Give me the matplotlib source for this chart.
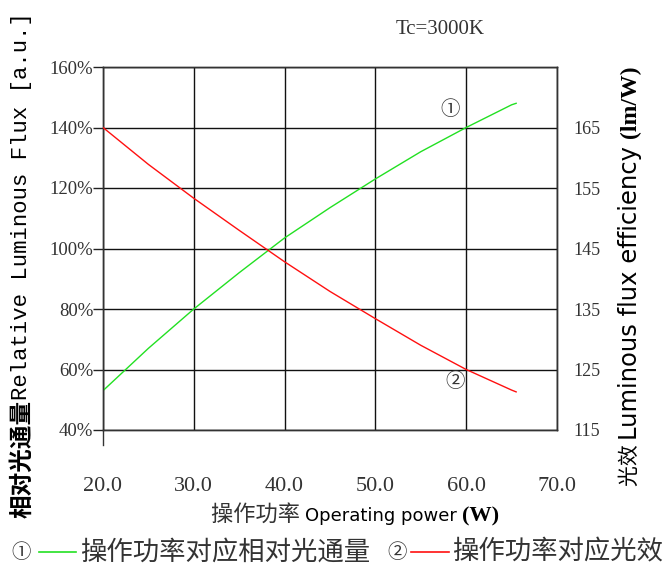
import matplotlib
matplotlib.use("Agg")
import matplotlib.pyplot as plt

# operating power (W) and the two measured curves
power = [20, 25, 30, 35, 40, 45, 50, 55, 60, 65, 65.5]
rel_flux = [53, 67, 80, 92, 103.5, 113.5, 123, 132, 140, 147.5, 148]      # %
efficacy = [165, 158.9, 153.3, 148.0, 142.8, 137.9, 133.4, 129.0, 125.0, 121.6, 121.3]  # lm/W

x_ticks = [20, 30, 40, 50, 60, 70]
left_ticks = [40, 60, 80, 100, 120, 140, 160]
right_ticks = [115, 125, 135, 145, 155, 165]

_TXT = "#333333"
_GREEN = "#22e022"
_RED = "#ff1010"
_SERIF = "Liberation Serif"
_CJK = "Noto Sans CJK SC"

W, H = 664, 572
fig = plt.figure(figsize=(W / 100, H / 100), dpi=100)
ax = fig.add_axes([103 / W, 1 - 430 / H, (557 - 103) / W, (430 - 67) / H])
ax2 = ax.twinx()

ax.plot(power, rel_flux, color=_GREEN, lw=1.0, zorder=3)
ax2.plot(power, efficacy, color=_RED, lw=1.0, zorder=3)

ax.set_xlim(20, 70)
ax.set_ylim(40, 160)
ax2.set_ylim(115, 175)

ax.set_xticks(x_ticks)
ax.set_xticklabels([f"{v:.1f}" for v in x_ticks], fontfamily=_SERIF, fontsize=16, color=_TXT)
ax.set_yticks(left_ticks)
ax.set_yticklabels([f"{v}%" for v in left_ticks], fontfamily=_SERIF, fontsize=13.5, color=_TXT)
ax2.set_yticks(right_ticks)
ax2.set_yticklabels([str(v) for v in right_ticks], fontfamily=_SERIF, fontsize=13, color=_TXT)

ax.tick_params(axis="x", length=0, pad=34)
ax.tick_params(axis="y", length=7, width=1.0, pad=0, color="#222222")
ax2.tick_params(axis="y", length=0, pad=12)

ax.grid(True, color="#111111", lw=1.0)
ax.set_axisbelow(True)
for a in (ax, ax2):
    for sp in a.spines.values():
        sp.set_color("#333333")
        sp.set_linewidth(1.0)

# left spine runs a little below the frame
ax.plot([0, 0], [0, -0.04], transform=ax.transAxes, color="#333333", lw=1.0, clip_on=False)

# curve markers
ax.text(58.2, 145.8, "①", fontfamily=_CJK, fontsize=14, color=_TXT, ha="center", va="center")
ax.text(58.8, 55.9, "②", fontfamily=_CJK, fontsize=14, color=_TXT, ha="center", va="center")

fig.text(440 / W, 1 - 30 / H, "Tc=3000K", fontfamily=_SERIF, fontsize=15, color=_TXT,
         ha="center", va="center")

renderer = fig.canvas.get_renderer()


def text_run(pieces, cx, cy, rotation=0, gap=0):
    """Lay out text pieces one after another, centred on (cx, cy) in pixels."""
    objs = []
    for s, kw in pieces:
        t = fig.text(0, 0, s, rotation=rotation, **kw)
        objs.append(t)
    sizes = []
    for t in objs:
        bb = t.get_window_extent(renderer)
        sizes.append(bb.width if rotation == 0 else bb.height)
    total = sum(sizes) + gap * (len(objs) - 1)
    if rotation == 0:
        pos = cx - total / 2
        for t, s in zip(objs, sizes):
            t.set_ha("left")
            t.set_va("baseline")
            t.set_position((pos / W, 1 - cy / H))
            pos += s + gap
    else:
        pos = (H - cy) - total / 2
        for t, s in zip(objs, sizes):
            t.set_ha("center")
            t.set_va("bottom")
            t.set_position((cx / W, pos / H))
            pos += s + gap
    return objs


# left axis title
text_run([
    ("相对光通量", dict(fontfamily=_CJK, fontsize=17, fontweight="bold", color="black")),
    ("Relative Luminous Flux [a.u.]", dict(fontfamily="Liberation Mono", fontsize=16, color="black")),
], 22, 265, rotation=90)

# right axis title
text_run([
    ("光效 ", dict(fontfamily=_CJK, fontsize=15, color="black")),
    ("Luminous flux efficiency ", dict(fontfamily="DejaVu Sans", fontsize=17.5, color="black")),
    ("(lm/W)", dict(fontfamily=_SERIF, fontsize=17, fontweight="bold", color="black")),
], 630, 276, rotation=90)

# x axis title
text_run([
    ("操作功率 ", dict(fontfamily=_CJK, fontsize=16, color=_TXT)),
    ("Operating power ", dict(fontfamily="DejaVu Sans", fontsize=13, color="black")),
    ("(W)", dict(fontfamily=_SERIF, fontsize=16, fontweight="bold", color="black")),
], 355, 521)

# legend line under the chart
leg_kw = dict(fontfamily=_CJK, fontsize=19, color=_TXT, va="center")
fig.text(21 / W, 1 - 552 / H, "①", ha="center", fontsize=14, fontfamily=_CJK, color=_TXT, va="center")
fig.add_artist(plt.Line2D([39 / W, 76 / W], [1 - 552 / H] * 2, color=_GREEN, lw=1.2))
fig.text(80 / W, 1 - 552 / H, "操作功率对应相对光通量", ha="left", **leg_kw)
fig.text(397 / W, 1 - 552 / H, "②", ha="center", fontsize=14, fontfamily=_CJK, color=_TXT, va="center")
fig.add_artist(plt.Line2D([411 / W, 449 / W], [1 - 552 / H] * 2, color=_RED, lw=1.2))
fig.text(452 / W, 1 - 552 / H, "操作功率对应光效", ha="left", **leg_kw)

fig.savefig("out.png", dpi=100, facecolor="white")
